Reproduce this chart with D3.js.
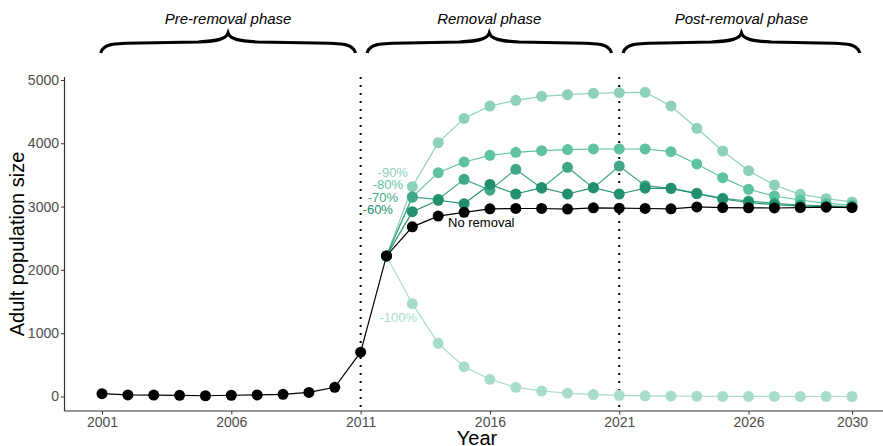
<!DOCTYPE html>
<html lang="en">
<head>
<meta charset="UTF-8">
<script src="https://d3js.org/d3.v7.min.js"></script>
<style>
  body { margin: 0; background: #fff; }
  svg { display: block; font-family: "Liberation Sans", Arial, sans-serif; }
  .tick text { font-size: 14px; fill: #4d4d4d; }
  .axis-title { font-size: 20px; fill: #000; }
  .phase { font-size: 15px; font-style: italic; fill: #000; }
  .lab { font-size: 13px; }
</style>
</head>
<body>
<div id="chart"></div>
<script>
// years of the whole run and of the removal scenarios
const years = [2001,2002,2003,2004,2005,2006,2007,2008,2009,2010,2011,2012,2013,2014,2015,
               2016,2017,2018,2019,2020,2021,2022,2023,2024,2025,2026,2027,2028,2029,2030];
const removalYears = years.slice(11);
const xTicks = [2001, 2006, 2011, 2016, 2021, 2026, 2030];
const yTicks = [0, 1000, 2000, 3000, 4000, 5000];

const noRemoval = [45, 25, 22, 18, 12, 20, 25, 35, 65, 145, 700, 2220, 2680, 2850, 2910, 2965,
                   2970, 2970, 2960, 2980, 2975, 2970, 2965, 2995, 2985, 2980, 2978, 2985, 2990, 2985];
const r100 = [2220, 1466, 840, 471, 272, 145, 87, 52, 30, 18, 10, 6, 4, 2, 1, 1, 0, 0, 0];
const r90  = [2220, 3315, 4010, 4393, 4589, 4679, 4742, 4768, 4790, 4800, 4805, 4590, 4237, 3878, 3567, 3341, 3194, 3125, 3073];
const r80  = [2220, 3150, 3536, 3705, 3810, 3857, 3883, 3900, 3910, 3910, 3910, 3867, 3673, 3457, 3273, 3167, 3104, 3052, 3025];
const r70  = [2220, 3150, 3115, 3430, 3260, 3589, 3290, 3620, 3295, 3640, 3330, 3289, 3210, 3131, 3088, 3052, 3025, 3010, 3000];
const r60  = [2220, 2920, 3100, 3046, 3350, 3199, 3300, 3199, 3300, 3199, 3290, 3289, 3205, 3120, 3065, 3030, 3010, 3000, 2995];

const scenarios = [
  { name: "-100%", values: r100, color: "#a7dccb" },
  { name: "-90%",  values: r90,  color: "#8dd1b9" },
  { name: "-80%",  values: r80,  color: "#5fc3a1" },
  { name: "-70%",  values: r70,  color: "#3fa787" },
  { name: "-60%",  values: r60,  color: "#22906e" }
];

// text labels next to the lines (year, value of baseline)
const labels = [
  { text: "-90%",  year: 2012.83, value: 3468, color: "#8dd1b9", anchor: "end" },
  { text: "-80%",  year: 2012.64, value: 3278, color: "#5fc3a1", anchor: "end" },
  { text: "-70%",  year: 2012.45, value: 3073, color: "#3fa787", anchor: "end" },
  { text: "-60%",  year: 2012.25, value: 2883, color: "#22906e", anchor: "end" },
  { text: "-100%", year: 2013.18, value: 1177, color: "#a7dccb", anchor: "end" },
  { text: "No removal", year: 2014.38, value: 2685, color: "#000", anchor: "start" }
];

const phases = [
  { name: "Pre-removal phase",  from: 2000.95, to: 2010.8 },
  { name: "Removal phase",      from: 2011.25, to: 2020.7 },
  { name: "Post-removal phase", from: 2021.15, to: 2030.3 }
];
const phaseBreaks = [2011, 2021];

const W = 883, H = 446;
const svg = d3.select("#chart").append("svg").attr("width", W).attr("height", H);

const x = d3.scaleLinear().domain([2001, 2030]).range([102, 852]);
const y = d3.scaleLinear().domain([-229, 5047]).range([411, 77]);
const xMin = 1999.55, xMax = 2031.45;

// axes
const xAxis = svg.append("g").attr("transform", `translate(0,${y(-229)})`)
  .call(d3.axisBottom(x).tickValues(xTicks).tickFormat(d3.format("d")).tickSizeOuter(0).tickSize(3.5).tickPadding(3));
xAxis.select(".domain").attr("d", `M${x(xMin)},0H${x(xMax)}`).attr("stroke", "#333").attr("stroke-width", 1.2);
xAxis.selectAll(".tick line").attr("stroke", "#333");

const yAxis = svg.append("g").attr("transform", `translate(${x(xMin)},0)`)
  .call(d3.axisLeft(y).tickValues(yTicks).tickFormat(d3.format("d")).tickSizeOuter(0).tickSize(3.5).tickPadding(2));
yAxis.select(".domain").attr("d", `M0,${y(5047)}V${y(-229)}`).attr("stroke", "#333").attr("stroke-width", 1.2);
yAxis.selectAll(".tick line").attr("stroke", "#333");

// phase separators
svg.selectAll(".sep").data(phaseBreaks).enter().append("line")
  .attr("x1", d => x(d)).attr("x2", d => x(d))
  .attr("y1", y(5047)).attr("y2", y(-229))
  .attr("stroke", "#000").attr("stroke-width", 2)
  .attr("stroke-dasharray", "2,6");

const line = d3.line().x(d => x(d[0])).y(d => y(d[1]));

scenarios.forEach(s => {
  const pts = removalYears.map((yr, i) => [yr, s.values[i]]);
  svg.append("path").datum(pts).attr("d", line)
    .attr("fill", "none").attr("stroke", s.color).attr("stroke-width", 1.2);
  svg.append("g").selectAll("circle").data(pts).enter().append("circle")
    .attr("cx", d => x(d[0])).attr("cy", d => y(d[1])).attr("r", 5.5)
    .attr("fill", s.color);
});

const base = years.map((yr, i) => [yr, noRemoval[i]]);
svg.append("path").datum(base).attr("d", line)
  .attr("fill", "none").attr("stroke", "#000").attr("stroke-width", 1.2);
svg.append("g").selectAll("circle").data(base).enter().append("circle")
  .attr("cx", d => x(d[0])).attr("cy", d => y(d[1])).attr("r", 5.5).attr("fill", "#000");

svg.selectAll(".lab").data(labels).enter().append("text")
  .attr("class", "lab")
  .attr("x", d => x(d.year)).attr("y", d => y(d.value))
  .attr("text-anchor", d => d.anchor)
  .attr("fill", d => d.color)
  .text(d => d.text);

// curly braces above the panel
function brace(x0, x1) {
  const xm = (x0 + x1) / 2, yEnd = 53, yFlat = 43, yTip = 33;
  return `M${x0},${yEnd} C${x0 + 2},${yFlat + 1} ${x0 + 12},${yFlat} ${x0 + 40},${yFlat}` +
         ` L${xm - 30},${yFlat - 1} C${xm - 10},${yFlat - 2} ${xm - 2},${yTip + 6} ${xm},${yTip}` +
         ` C${xm + 2},${yTip + 6} ${xm + 10},${yFlat - 2} ${xm + 30},${yFlat - 1}` +
         ` L${x1 - 40},${yFlat} C${x1 - 12},${yFlat} ${x1 - 2},${yFlat + 1} ${x1},${yEnd}`;
}

svg.selectAll(".brace").data(phases).enter().append("path")
  .attr("d", d => brace(x(d.from), x(d.to)))
  .attr("fill", "none").attr("stroke", "#000").attr("stroke-width", 3.2);

svg.selectAll(".phase").data(phases).enter().append("text")
  .attr("class", "phase")
  .attr("x", d => (x(d.from) + x(d.to)) / 2).attr("y", 24)
  .attr("text-anchor", "middle")
  .text(d => d.name);

// axis titles
svg.append("text").attr("class", "axis-title")
  .attr("x", (x(xMin) + x(xMax)) / 2).attr("y", 445)
  .attr("text-anchor", "middle").text("Year");
svg.append("text").attr("class", "axis-title")
  .attr("transform", `translate(24,${(y(5047) + y(-229)) / 2}) rotate(-90)`)
  .attr("text-anchor", "middle").text("Adult population size");
</script>
</body>
</html>
